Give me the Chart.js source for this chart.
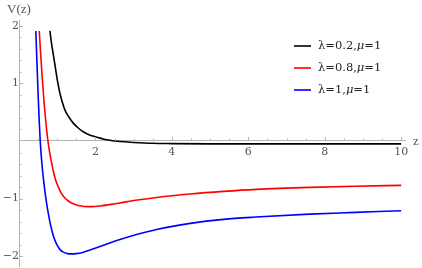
<!DOCTYPE html>
<html>
<head>
<meta charset="utf-8">
<script src="https://cdn.jsdelivr.net/npm/chart.js@4/dist/chart.umd.min.js"></script>
<style>
  html, body { margin: 0; padding: 0; background: #fff; }
  #wrap { width: 422px; height: 268px; }
</style>
</head>
<body>
<div id="wrap"><canvas id="potChart" width="422" height="268"></canvas></div>
<script>
// values
const seriesLabels = ['λ=0.2,μ=1', 'λ=0.8,μ=1', 'λ=1,μ=1'];
const seriesColors = ['#000000', '#ff0000', '#0000ff'];

const zBlack = [0.81, 0.85, 0.90, 0.95, 0.99, 1.03, 1.07, 1.13, 1.20, 1.30, 1.42, 1.55, 1.68, 1.83, 1.99, 2.15, 2.30, 2.64, 3.0, 3.5, 4.0, 5.0, 6.0, 7.0, 8.0, 9.0, 10.0];
const vBlack = [1.91, 1.70, 1.49, 1.28, 1.11, 0.96, 0.83, 0.68, 0.54, 0.42, 0.31, 0.225, 0.16, 0.11, 0.075, 0.045, 0.02, -0.01, -0.025, -0.04, -0.045, -0.05, -0.05, -0.05, -0.05, -0.05, -0.05];

const zRed = [0.53, 0.57, 0.61, 0.65, 0.69, 0.73, 0.77, 0.81, 0.86, 0.90, 0.96, 1.03, 1.11, 1.20, 1.31, 1.42, 1.53, 1.64, 1.77, 1.90, 2.16, 2.51, 2.73, 3.1, 3.6, 4.48, 5.35, 6.22, 7.62, 8.8, 10.0];
const vRed = [1.91, 1.48, 1.08, 0.72, 0.42, 0.15, -0.06, -0.23, -0.40, -0.53, -0.68, -0.80, -0.91, -0.99, -1.05, -1.09, -1.115, -1.13, -1.14, -1.14, -1.125, -1.09, -1.065, -1.025, -0.98, -0.92, -0.875, -0.84, -0.805, -0.785, -0.77];

const zBlue = [0.44, 0.47, 0.50, 0.53, 0.56, 0.60, 0.66, 0.72, 0.77, 0.83, 0.90, 0.99, 1.08, 1.16, 1.27, 1.38, 1.50, 1.64, 1.80, 1.99, 2.25, 2.6, 3.1, 3.6, 4.48, 5.35, 6.2, 7.6, 8.8, 10.0];
const vBlue = [1.91, 1.35, 0.82, 0.33, -0.05, -0.40, -0.78, -1.07, -1.27, -1.47, -1.65, -1.80, -1.89, -1.93, -1.955, -1.96, -1.955, -1.94, -1.905, -1.86, -1.80, -1.72, -1.62, -1.535, -1.43, -1.36, -1.32, -1.27, -1.24, -1.21];

const xTicks = [2, 4, 6, 8, 10];
const yTicks = [-2, -1, 1, 2];
const xRange = [0, 10.1];
const yRange = [-2.17, 2.1];

const axisGray = '#b4b4b4';
const labelGray = '#555555';
const serif = '"DejaVu Serif", "Liberation Serif", serif';

function toPoints(xs, ys) {
    return xs.map((x, i) => ({ x: x, y: ys[i] }));
}

// minor/major tick marks pointing into the plot, like Mathematica
const tickMarks = {
    id: 'tickMarks',
    afterDraw(chart) {
        const ctx = chart.ctx;
        const xs = chart.scales.x, ys = chart.scales.y;
        const x0 = xs.getPixelForValue(0), y0 = ys.getPixelForValue(0);
        ctx.save();
        ctx.strokeStyle = axisGray;
        ctx.lineWidth = 1;
        for (let i = 1; i <= 20; i++) {
            const v = i * 0.5;
            const px = Math.round(xs.getPixelForValue(v)) + 0.5;
            const len = (v % 2 === 0) ? 4 : 2.5;
            ctx.beginPath();
            ctx.moveTo(px, y0);
            ctx.lineTo(px, y0 - len);
            ctx.stroke();
        }
        for (let i = -10; i <= 10; i++) {
            if (i === 0) continue;
            const v = i * 0.2;
            const py = Math.round(ys.getPixelForValue(v)) + 0.5;
            const len = (i % 5 === 0) ? 4 : 2.5;
            ctx.beginPath();
            ctx.moveTo(x0, py);
            ctx.lineTo(x0 + len, py);
            ctx.stroke();
        }
        ctx.restore();
    }
};

// axis names and the legend box in the upper right
const annotations = {
    id: 'annotations',
    afterDraw(chart) {
        const ctx = chart.ctx;
        ctx.save();
        ctx.fillStyle = labelGray;
        ctx.font = '13px "Liberation Serif", serif';
        ctx.textBaseline = 'middle';
        ctx.textAlign = 'left';
        ctx.fillText('V(z)', 7, 10);
        ctx.fillText('z', 413, 142);

        ctx.fillStyle = '#222';
        const rowY = [46, 68, 90];
        const f = '11.5px ' + serif;
        chart.data.datasets.forEach((ds, i) => {
            const y = rowY[i];
            ctx.strokeStyle = ds.borderColor;
            ctx.lineWidth = 1.6;
            ctx.beginPath();
            ctx.moveTo(294, y);
            ctx.lineTo(311, y);
            ctx.stroke();
            const parts = ds.label.split('μ');
            let x = 318;
            ctx.font = f;
            ctx.fillText(parts[0], x, y);
            x += ctx.measureText(parts[0]).width;
            ctx.font = 'italic ' + f;
            ctx.fillText('μ', x, y);
            x += ctx.measureText('μ').width;
            ctx.font = f;
            ctx.fillText(parts[1], x, y);
        });
        ctx.restore();
    }
};

const ctx = document.getElementById('potChart').getContext('2d');
const potChart = new Chart(ctx, {
    type: 'scatter',
    data: {
        datasets: [
            { label: seriesLabels[0], data: toPoints(zBlack, vBlack), borderColor: seriesColors[0] },
            { label: seriesLabels[1], data: toPoints(zRed, vRed), borderColor: seriesColors[1] },
            { label: seriesLabels[2], data: toPoints(zBlue, vBlue), borderColor: seriesColors[2] }
        ].map(ds => Object.assign(ds, {
            showLine: true,
            pointRadius: 0,
            borderWidth: 1.6,
            cubicInterpolationMode: 'monotone',
            fill: false
        }))
    },
    options: {
        responsive: false,
        animation: false,
        layout: { padding: { left: 19, right: 17, top: 20, bottom: 2 } },
        plugins: {
            legend: { display: false },
            tooltip: { enabled: false }
        },
        scales: {
            x: {
                type: 'linear',
                min: xRange[0],
                max: xRange[1],
                bounds: 'data',
                position: { y: 0 },
                afterBuildTicks: s => {
                    s.ticks = xTicks.map(v => ({ value: v }));
                    s.min = xRange[0]; s.max = xRange[1];
                },
                afterFit: s => {
                    s.paddingLeft = 0; s.paddingRight = 0;
                    s.paddingTop = 0; s.paddingBottom = 0;
                },
                grid: { display: false, drawTicks: false },
                border: { display: true, color: axisGray, width: 1 },
                ticks: {
                    padding: 5,
                    color: labelGray,
                    font: { family: serif, size: 11 },
                    maxRotation: 0,
                    callback: v => String(v)
                }
            },
            y: {
                type: 'linear',
                min: yRange[0],
                max: yRange[1],
                bounds: 'data',
                position: { x: 0 },
                afterBuildTicks: s => {
                    s.ticks = yTicks.map(v => ({ value: v }));
                    s.min = yRange[0]; s.max = yRange[1];
                },
                afterFit: s => {
                    s.paddingLeft = 0; s.paddingRight = 0;
                    s.paddingTop = 0; s.paddingBottom = 0;
                },
                grid: { display: false, drawTicks: false },
                border: { display: true, color: axisGray, width: 1 },
                ticks: {
                    padding: 4,
                    color: labelGray,
                    font: { family: serif, size: 11 },
                    callback: v => (v < 0 ? '\u2212' + Math.abs(v) : String(v))
                }
            }
        }
    },
    plugins: [tickMarks, annotations]
});
</script>
</body>
</html>
